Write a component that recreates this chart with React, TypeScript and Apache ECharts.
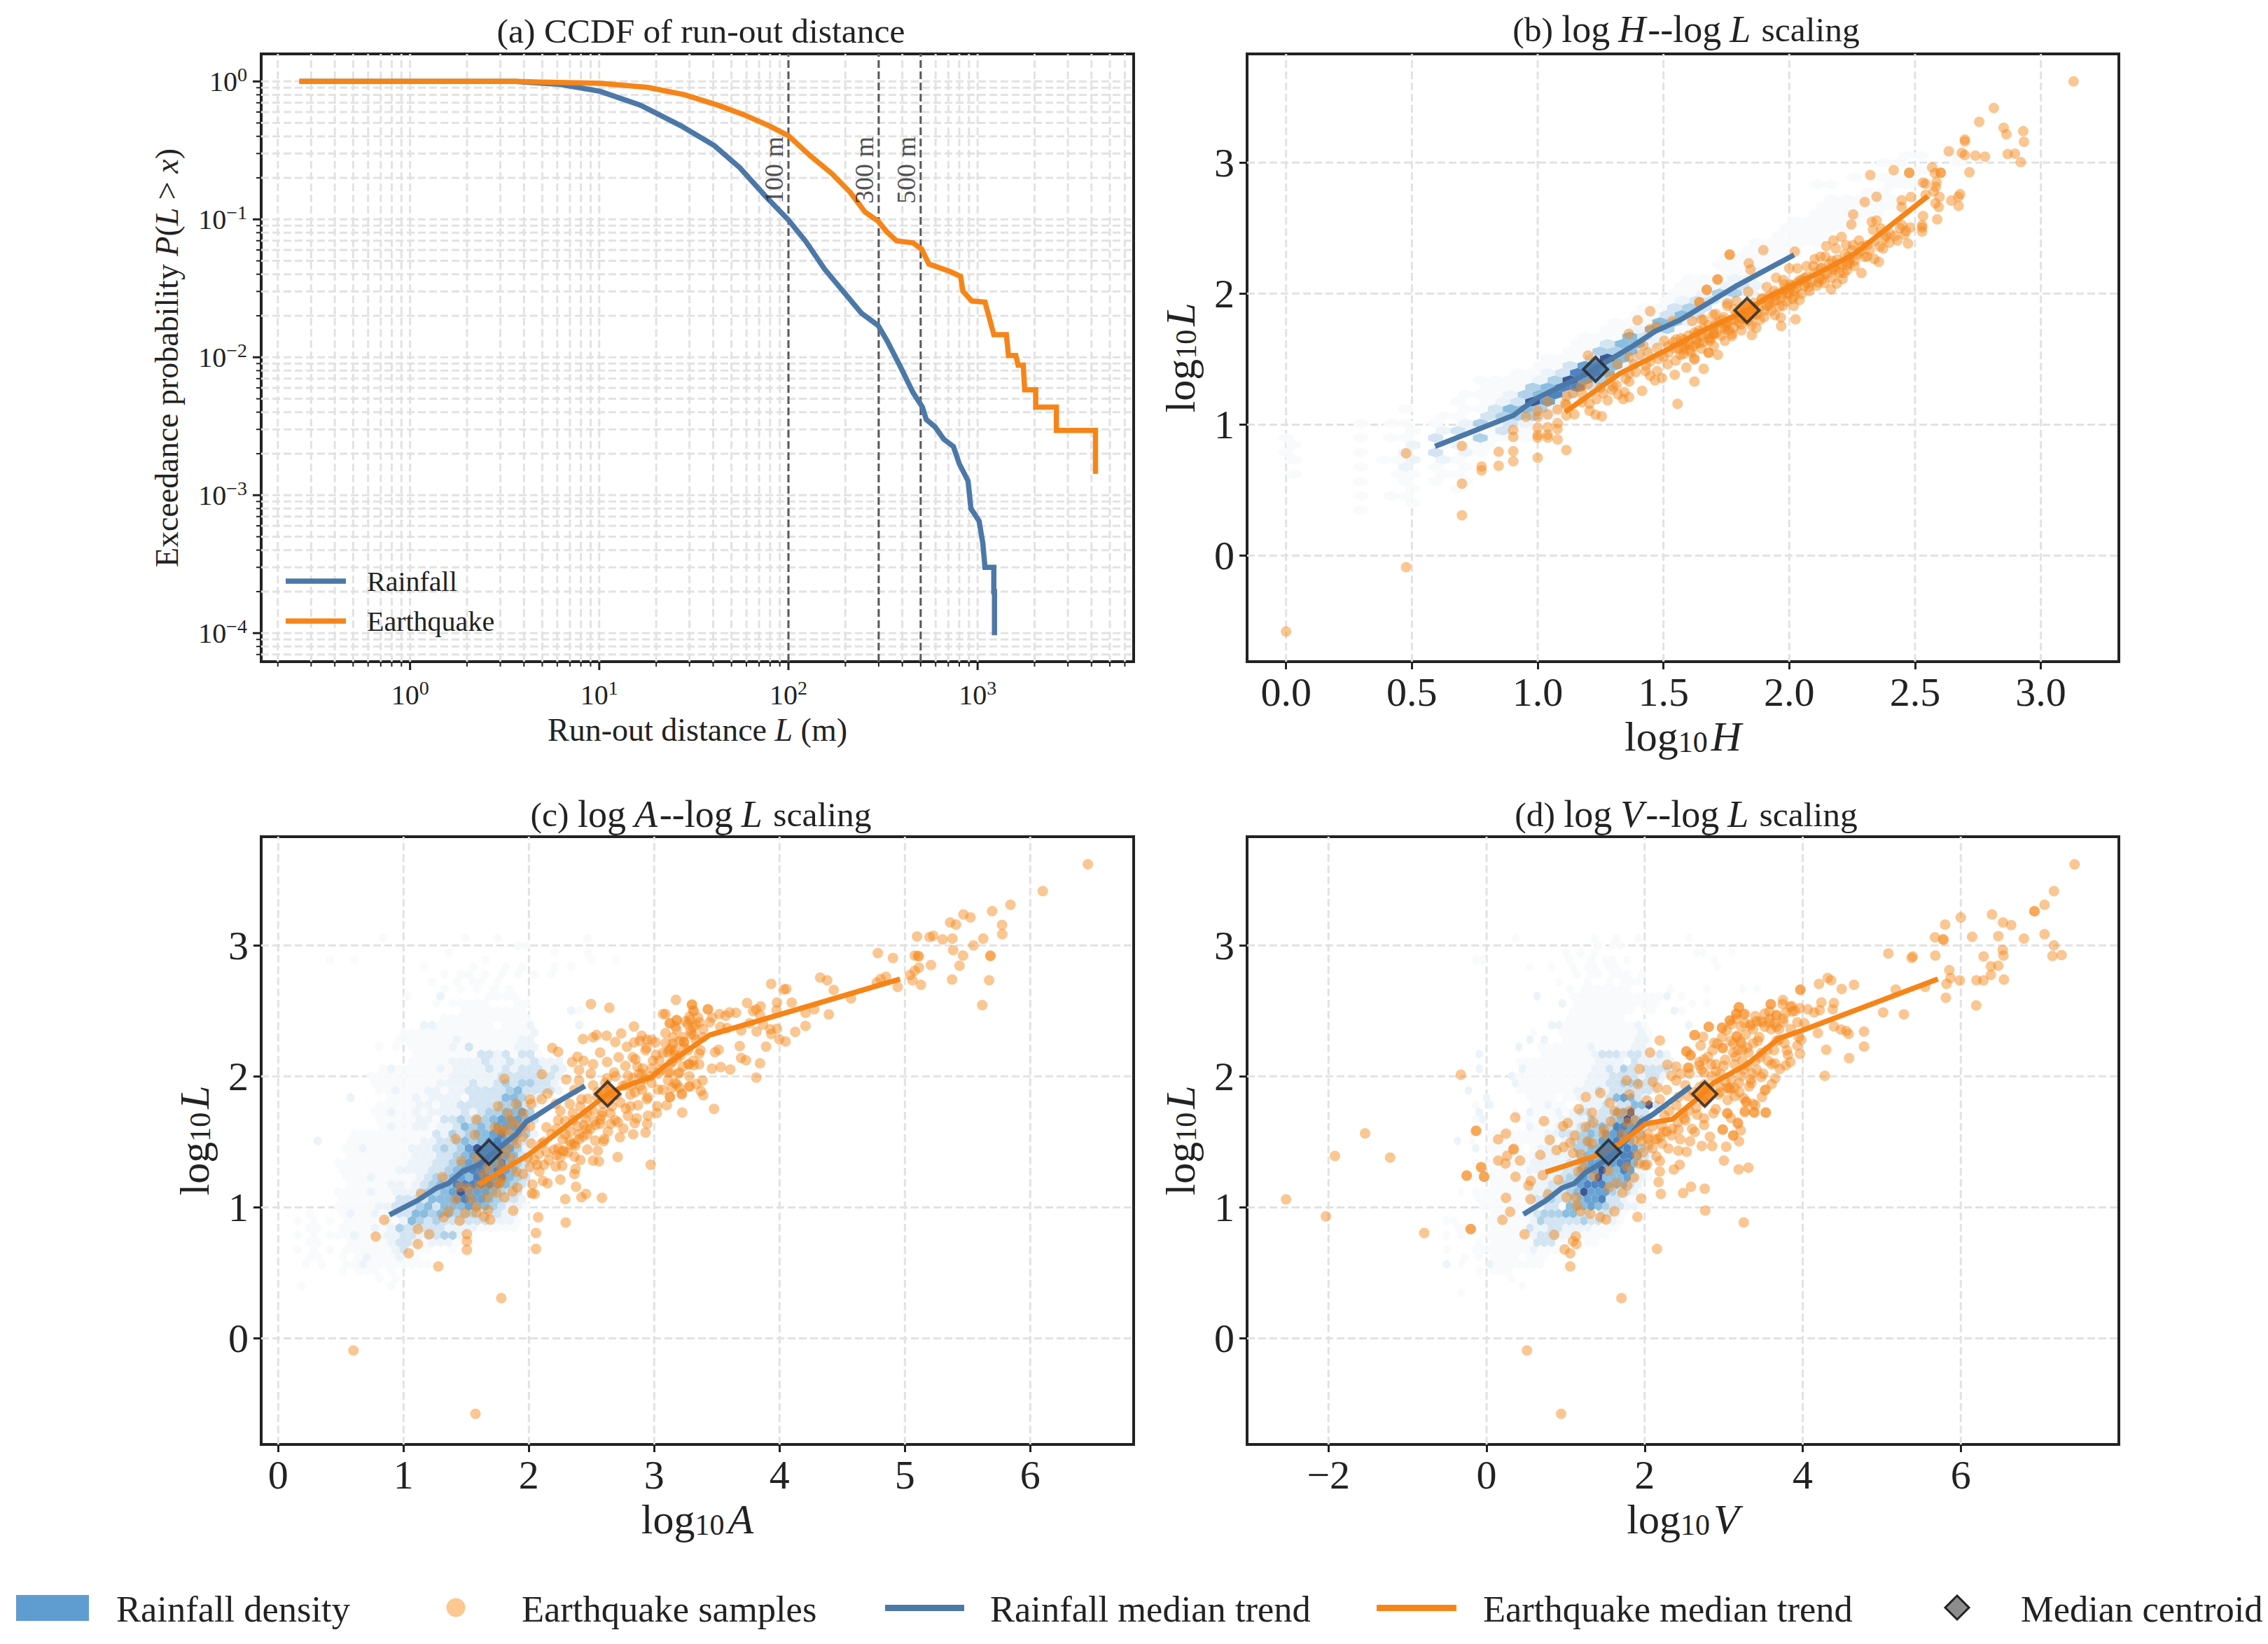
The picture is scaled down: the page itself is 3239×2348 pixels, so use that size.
import React, { useEffect, useRef } from "react";
import * as echarts from "echarts";

const F = "Liberation Serif";
const INK = "#222222";
const RAIN = "#4C78A8";
const QUAKE = "#F58518";
const GRID = "#e2e2e2";
const HEX_COLORS = ["", "#f7fafc", "#ebf3f9", "#cfe2f1", "#a9cee6", "#80b7dc", "#5b9bd0", "#3f79bb", "#2f4a8e"];

// ---------- panel (a): CCDF ----------
const CCDF_RAIN = [[0.26,1],[3.6,1],[6.2,0.952],[10.1,0.848],[16.5,0.673],[27,0.477],[40.5,0.343],[55.3,0.237],[75.7,0.147],[100,0.099],[124,0.0687],[155,0.0437],[194,0.0302],[243,0.0209],[298,0.017],[332,0.0132],[387,0.00877],[455,0.00557],[511,0.00435],[535,0.00354],[595,0.00313],[662,0.00255],[745,0.00225],[800,0.00169],[890,0.00127],[922,0.0008],[1018,0.00065],[1065,0.00045],[1094,0.0003],[1218,0.0003],[1218,0.0002],[1228,0.0002],[1228,0.0000965]];
const CCDF_QUAKE = [[0.26,1],[3.6,1],[10.1,0.968],[18,0.906],[28.3,0.8],[42.3,0.673],[57.9,0.575],[79,0.477],[100,0.404],[130,0.29],[170,0.214],[212,0.157],[254,0.113],[298,0.097],[332,0.081],[373,0.0698],[455,0.0676],[506,0.0608],[553,0.0474],[711,0.042],[813,0.0386],[836,0.0302],[931,0.0256],[1094,0.0251],[1164,0.0184],[1218,0.0146],[1419,0.0146],[1456,0.0103],[1592,0.0103],[1637,0.00877],[1742,0.00877],[1774,0.00581],[2028,0.00581],[2028,0.00435],[2608,0.00435],[2608,0.00295],[4199,0.00295],[4199,0.00143]];
const REF_LINES = [100, 300, 500];
const DECADES_X = [-1, 0, 1, 2, 3];
const DECADES_Y = [-5, -4, -3, -2, -1, 0];
const MINOR_MULT = [2, 3, 4, 5, 6, 7, 8, 9];

// ---------- ticks ----------
const TICKS_L = [0, 1, 2, 3];
const TICKS_H = [0, 0.5, 1, 1.5, 2, 2.5, 3];
const TICKS_A = [0, 1, 2, 3, 4, 5, 6];
const TICKS_V = [-2, 0, 2, 4, 6];

// ---------- samples (earthquake) ----------
const QUAKE_H = [[0,-0.58],[3.13,3.62],[0.477,-0.089],[0.477,0.78],[0.699,0.838],[0.699,0.549],[0.699,0.307],[0.777,0.68],[0.777,0.65],[0.845,0.793],[0.845,0.686],[0.903,0.96],[0.903,0.906],[0.903,0.797],[0.903,0.72],[1,1.105],[1,1.06],[1,0.977],[1,0.918],[1,0.9],[1,0.747],[0.954,1.06],[1.04,1.078],[1.04,0.98],[1.04,0.923],[1.04,0.9],[1.079,1.114],[1.079,1.012],[1.079,0.966],[1.079,0.886],[1.114,0.806],[1.114,1.07],[1.114,1.15],[1.114,1.216],[1.146,1.078],[1.23,1.075],[1.255,1.064],[1.206,1.105],[1.11,1.16],[1.04,1.176],[1.176,1.24],[1.173,1.29],[1.2,1.31],[1.2,1.528],[1.14,1.24],[1.176,1.17],[1.206,1.16],[1.234,1.194],[1.278,1.185],[1.26,1.24],[1.34,1.194],[1.363,1.209],[1.32,1.23],[1.295,1.266],[1.345,1.248],[1.415,1.257],[1.364,1.328],[1.364,1.39],[1.317,1.46],[1.29,1.37],[1.313,1.3],[1.362,1.693],[1.397,1.797],[1.447,1.865],[1.556,1.159],[1.623,1.328],[1.66,1.426],[1.716,1.533],[1.68,1.55],[1.447,1.729],[1.475,1.747],[1.535,1.79],[1.614,1.79],[1.642,1.934],[1.672,2.03],[1.716,2.109],[1.763,2.3],[1.364,1.515],[1.383,1.462],[1.405,1.533],[1.42,1.604],[1.438,1.551],[1.447,1.48],[1.429,1.408],[1.447,1.373],[1.475,1.408],[1.494,1.355],[1.466,1.337],[1.545,1.381],[1.517,1.462],[1.549,1.488],[1.591,1.435],[1.623,1.506],[1.568,1.533],[1.54,1.586],[1.503,1.64],[1.475,1.586],[1.582,1.649],[1.623,1.702],[1.651,1.8],[1.66,1.729],[1.698,1.836],[1.707,1.765],[1.744,1.729],[1.754,1.925],[1.772,1.676],[1.744,1.64],[1.684,1.64],[1.698,1.693],[1.642,1.622],[1.605,1.569],[1.735,1.8],[1.781,1.8],[2.813,3.417],[2.755,3.312],[2.852,3.266],[2.863,3.216],[2.93,3.24],[2.933,3.159],[2.698,3.176],[2.698,3.162],[2.634,3.087],[2.686,3.075],[2.698,3.057],[2.74,3.053],[2.778,3.046],[2.868,3.066],[2.897,3.068],[2.92,3.004],[2.716,2.927],[2.415,2.943],[2.477,2.922],[2.477,2.922],[2.322,2.905],[2.347,2.74],[2.3,2.7],[2.568,2.964],[2.579,2.92],[2.602,2.923],[2.602,2.923],[2.585,2.852],[2.532,2.848],[2.542,2.838],[2.583,2.816],[2.574,2.78],[2.542,2.754],[2.484,2.738],[2.447,2.713],[2.447,2.661],[2.597,2.738],[2.581,2.69],[2.594,2.661],[2.644,2.71],[2.672,2.74],[2.679,2.759],[2.673,2.67],[2.588,2.567],[2.532,2.592],[2.528,2.522],[2.528,2.504],[2.528,2.474],[2.472,2.383],[2.43,2.406],[2.458,2.451],[2.481,2.504],[2.449,2.522],[2.463,2.478],[2.254,2.604],[2.247,2.528],[2.328,2.549],[2.347,2.558],[2.333,2.487],[2.365,2.496],[2.384,2.442],[2.398,2.389],[2.373,2.344],[2.356,2.242],[2.338,2.264],[2.31,2.282],[2.287,2.157],[2.277,2.406],[2.254,2.371],[2.226,2.371],[2.175,2.406],[2.208,2.433],[2.147,2.362],[2.185,2.344],[2.143,2.282],[2.124,2.282],[2.101,2.264],[2.236,2.282],[2.259,2.21],[2.217,2.157],[2.199,2.228],[2.171,2.193],[2.212,2.112],[2.189,2.077],[2.166,2.032],[2.124,2.193],[2.096,2.21],[2.069,2.21],[2.032,2.193],[2,2.193],[2.022,2.321],[1.897,2.332],[1.763,2.296],[1.839,2.232],[1.846,2.184],[1.714,2.107],[1.672,2.029],[1.644,1.934],[1.976,2.103],[1.948,2.121],[2.004,2.068],[2.05,2.103],[2.078,2.05],[2.115,2.086],[2.041,1.952],[2.013,1.961],[2.018,1.907],[1.976,1.907],[2.025,1.804],[1.968,1.752],[1.966,1.818],[1.943,1.836],[1.911,2.05],[1.892,1.961],[1.92,1.907],[1.883,1.8],[1.869,1.738],[1.851,1.684],[1.809,1.765],[1.772,1.693],[1.707,1.845],[1.66,1.8],[1.679,1.658],[1.633,1.693],[1.623,1.497],[1.679,1.547],[1.753,1.907],[1.79,1.943],[1.837,2.014],[1.744,1.747],[1.939,1.979],[1.86,1.9],[1.82,1.85],[1.78,1.88],[1.84,1.79],[1.9,1.87],[1.95,1.95],[1.99,2.0],[2.06,2.12],[2.14,2.15],[2.17,2.25],[2.23,2.22],[2.31,2.37],[2.28,2.32],[2.0,2.04],[1.98,2.07],[2.03,2.08],[1.94,2.02],[1.6,1.62],[1.55,1.65],[1.52,1.55],[1.48,1.5],[1.43,1.45],[1.39,1.4],[1.35,1.35],[1.3,1.29],[1.25,1.28],[1.58,1.58],[1.65,1.68],[1.7,1.73]];
const QUAKE_H_DENSE = [[1.5,1.52],[1.52,1.6],[1.54,1.63],[1.56,1.58],[1.57,1.66],[1.58,1.54],[1.59,1.61],[1.6,1.68],[1.61,1.55],[1.62,1.6],[1.63,1.65],[1.64,1.72],[1.65,1.58],[1.66,1.63],[1.67,1.7],[1.68,1.76],[1.69,1.66],[1.7,1.6],[1.71,1.7],[1.72,1.78],[1.73,1.68],[1.74,1.82],[1.75,1.75],[1.76,1.72],[1.77,1.8],[1.78,1.74],[1.79,1.84],[1.8,1.78],[1.81,1.72],[1.82,1.9],[1.83,1.8],[1.84,1.86],[1.85,1.76],[1.86,1.93],[1.87,1.84],[1.88,1.89],[1.89,1.96],[1.9,1.82],[1.91,1.91],[1.92,1.98],[1.93,1.87],[1.94,1.94],[1.95,2.0],[1.96,1.9],[1.97,1.97],[1.98,2.03],[1.99,1.94],[2.0,2.0],[2.01,2.06],[2.02,1.98],[2.03,2.04],[2.04,2.1],[2.05,2.0],[2.06,2.06],[2.07,2.13],[2.08,2.02],[2.09,2.09],[2.1,2.16],[2.11,2.06],[2.12,2.12],[2.13,2.2],[2.14,2.08],[2.15,2.15],[2.16,2.23],[2.17,2.12],[2.18,2.18],[2.19,2.26],[2.2,2.16],[2.21,2.22],[2.22,2.3],[2.23,2.18],[2.24,2.26],[2.25,2.33],[2.26,2.25],[2.27,2.3],[2.29,2.36],[2.3,2.28],[2.32,2.33],[2.34,2.4],[2.36,2.36],[2.38,2.42],[2.4,2.46],[2.42,2.44],[2.44,2.5],[1.58,1.6],[1.63,1.62],[1.7,1.69],[1.75,1.78],[1.81,1.81],[1.86,1.84],[1.92,1.93],[1.97,2.0],[2.02,2.02],[2.07,2.08],[2.13,2.11],[2.18,2.2],[2.24,2.23]];
const QUAKE_A = [[0.6,-0.092],[1.574,-0.576],[1.78,0.307],[6.46,3.62],[6.1,3.414],[5.842,3.31],[5.696,3.262],[5.775,3.157],[5.777,3.086],[5.467,3.237],[5.523,3.214],[5.361,3.175],[5.408,3.159],[5.097,3.068],[5.197,3.064],[5.227,3.073],[5.301,3.045],[5.379,3.052],[5.625,3.052],[5.547,3],[5.385,2.964],[5.464,2.923],[5.682,2.922],[5.682,2.918],[5.078,2.922],[5.104,2.92],[5.112,2.916],[5.436,2.845],[5.208,2.85],[5.112,2.83],[5.078,2.806],[5.041,2.774],[5.06,2.734],[5.128,2.699],[5.376,2.74],[5.672,2.734],[5.617,2.544],[4.784,2.941],[4.905,2.904],[4.849,2.761],[4.806,2.743],[4.775,2.717],[4.942,2.684],[4.324,2.754],[4.38,2.734],[4.432,2.66],[4.57,2.595],[4.277,2.512],[4.207,2.485],[4.393,2.474],[4.207,2.385],[4.125,2.34],[3.933,2.706],[4.054,2.667],[4.034,2.663],[4.097,2.563],[3.98,2.565],[3.976,2.506],[3.741,2.56],[3.849,2.535],[3.812,2.512],[3.788,2.499],[3.844,2.47],[3.652,2.485],[3.601,2.488],[3.57,2.463],[3.521,2.476],[3.428,2.512],[3.428,2.512],[3.302,2.549],[3.317,2.499],[3.173,2.585],[3.282,2.458],[3.178,2.428],[3.123,2.405],[3.09,2.476],[3.462,2.449],[3.266,2.399],[3.313,2.378],[3.36,2.414],[3.178,2.357],[3.151,2.298],[3.313,2.316],[3.443,2.414],[3.527,2.378],[3.582,2.369],[3.76,2.405],[3.694,2.351],[3.816,2.342],[3.868,2.396],[3.926,2.36],[3.98,2.364],[3.933,2.324],[3.998,2.283],[4.048,2.267],[3.892,2.228],[3.682,2.232],[3.693,2.141],[3.732,2.123],[3.844,2.1],[3.814,1.991],[3.607,2.052],[3.531,2.071],[3.46,2.059],[3.514,2.203],[3.485,2.185],[3.359,2.173],[3.387,2.298],[3.238,2.262],[3.201,2.271],[3.136,2.217],[3.108,2.182],[3.164,2.164],[3.275,2.093],[3.313,2.084],[3.229,2.075],[3.359,2.093],[3.201,2.03],[3.127,2.03],[3.28,2],[3.386,1.968],[3.336,1.941],[3.277,1.923],[3.372,1.888],[3.391,1.856],[3.179,1.941],[3.142,1.914],[3.201,1.914],[3.22,1.87],[3.125,1.843],[3.223,1.724],[3.477,1.752],[0.845,0.904],[0.778,0.777],[1.041,0.649],[1.114,0.72],[1.114,0.834],[1.205,0.795],[1.277,0.549],[1.14,1.103],[1.505,0.676],[1.505,0.742],[1.505,0.795],[1.447,0.898],[1.32,0.925],[1.361,0.97],[1.492,0.955],[1.415,1.059],[1.581,1.005],[1.581,0.961],[1.641,0.929],[1.674,0.979],[1.691,0.906],[1.875,0.975],[1.804,1.077],[1.739,1.112],[1.665,1.077],[1.534,1.068],[1.451,1.157],[1.516,1.144],[1.311,1.232],[1.603,1.166],[1.683,1.175],[1.758,1.184],[1.87,1.121],[1.907,1.152],[1.46,1.353],[1.415,1.524],[1.568,1.554],[1.581,1.672],[1.804,1.982],[2.104,2.016],[2.186,2.217],[2.233,2.187],[2.495,2.553],[2.642,2.524],[2.432,2.285],[2.512,2.298],[2.54,2.316],[2.62,2.31],[2.736,2.328],[2.838,2.381],[2.074,0.925],[2.294,0.884],[2.056,0.804],[2.056,0.683],[2.024,1.107],[2.046,1.103],[2.028,1.175],[2.251,1.212],[2.376,1.157],[2.456,1.103],[2.419,1.077],[2.29,1.062],[2.583,1.073],[2.972,1.326],[2.559,1.351],[2.512,1.358],[2.708,1.385],[2.363,1.255],[2.372,1.294],[2.266,1.317],[2.214,1.312],[2.149,1.184],[2.112,1.201],[2.065,1.326],[2.41,1.362],[2.549,1.433],[2.466,1.442],[2.363,1.389],[2.27,1.433],[2.326,1.504],[2.4,1.558],[2.466,1.558],[2.596,1.504],[2.601,1.522],[2.726,1.535],[2.754,1.602],[2.832,1.558],[2.931,1.572],[2.944,1.638],[2.844,1.643],[2.689,1.665],[2.652,1.638],[2.568,1.638],[2.587,1.727],[2.466,1.718],[2.354,1.665],[2.233,1.665],[2.14,1.611],[2.102,1.487],[2.019,1.487],[1.953,1.54],[2.009,1.62],[1.953,1.718],[2.019,1.79],[2.009,1.825],[2.102,1.825],[2.149,1.87],[2.214,1.79],[2.298,1.977],[2.345,2.11],[2.387,2.15],[2.436,2.12],[2.4,2.048],[2.512,2.093],[2.568,2.182],[2.624,2.11],[2.68,2.03],[2.79,2.004],[2.716,2.146],[2.689,2.262],[2.782,2.226],[2.885,2.27],[2.94,2.28],[3.07,2.476],[3.126,2.405],[3.18,2.431],[3.3,2.547],[3.285,2.431],[3.31,2.503],[2.829,2.146],[2.866,2.075],[2.94,2.217],[3.015,2.164],[2.903,2.021],[3.09,2.253],[3.164,2.2],[3.238,2.262],[3.294,2.325],[3.145,2.111],[3.33,2.395],[3.03,2.021],[3.108,2.03],[3.276,2.093],[3.164,1.95],[3.22,1.861],[3.126,1.843],[3.024,1.772],[2.94,1.825],[2.847,1.879],[2.773,1.754],[2.81,1.772],[2.903,1.897],[3.285,1.923],[3.07,1.897],[2.978,1.95],[2.773,1.932],[2.642,1.897],[2.512,1.932],[2.419,1.825],[2.549,1.843],[2.326,1.79],[2.251,1.736],[2.624,1.986],[2.494,2.021],[2.4,1.968],[2.363,1.897],[2.661,1.772],[2.438,1.629],[2.531,1.629],[2.289,1.558],[2.363,1.487],[2.14,1.424],[2.233,1.451],[2.009,1.308],[2.084,1.273],[1.991,1.38],[2.046,1.362],[2.121,1.326],[1.758,1.594],[1.832,1.718],[1.856,1.665],[1.898,1.79],[1.754,1.772],[1.953,1.611],[1.898,1.629],[1.823,1.594],[1.73,1.611],[1.795,1.576],[1.879,1.54],[1.898,1.487],[1.823,1.451],[1.851,1.38],[1.767,1.326],[1.767,1.406],[1.637,1.255],[1.674,1.308],[1.581,1.38],[1.786,1.219],[1.767,1.184],[1.898,1.273],[1.953,1.255]];
const QUAKE_A_DENSE = [[2.08,1.41],[2.12,1.5],[2.16,1.36],[2.18,1.56],[2.2,1.44],[2.22,1.6],[2.25,1.38],[2.27,1.52],[2.29,1.66],[2.31,1.42],[2.33,1.58],[2.35,1.72],[2.37,1.47],[2.39,1.62],[2.41,1.77],[2.43,1.54],[2.45,1.68],[2.47,1.83],[2.49,1.6],[2.51,1.74],[2.53,1.51],[2.55,1.88],[2.57,1.67],[2.59,1.79],[2.61,1.95],[2.63,1.58],[2.65,1.72],[2.67,1.86],[2.69,2.0],[2.71,1.65],[2.73,1.8],[2.75,1.93],[2.77,2.08],[2.79,1.7],[2.81,1.86],[2.83,1.99],[2.85,2.13],[2.87,1.78],[2.89,1.93],[2.91,2.06],[2.93,2.2],[2.95,1.84],[2.97,2.0],[2.99,2.12],[3.01,2.26],[3.03,1.9],[3.05,2.05],[3.07,2.18],[3.09,2.33],[3.11,1.97],[3.13,2.1],[3.15,2.25],[3.17,2.38],[3.19,2.02],[3.21,2.16],[3.23,2.3],[3.25,2.42],[3.27,2.2],[3.29,2.35],[3.31,2.12],[3.33,2.28],[3.35,2.45],[3.37,2.2],[3.39,2.36],[2.98,2.28],[2.9,2.31],[2.84,2.26],[3.02,1.72],[2.95,1.7],[2.86,1.68],[3.1,1.78],[2.92,1.98],[2.98,2.06],[3.04,2.12],[2.88,2.02],[2.82,1.93],[3.12,2.2],[3.18,2.14],[3.24,2.22],[2.7,1.86],[2.64,1.82],[2.58,1.7],[2.52,1.66],[2.46,1.6],[2.4,1.52],[2.34,1.48],[2.28,1.43],[2.22,1.4]];
const QUAKE_V = [[-2.537,1.061],[-2.033,0.931],[-1.919,1.392],[-1.537,1.565],[-1.22,1.381],[-0.789,0.805],[-0.203,0.835],[-0.325,2.012],[-0.13,1.586],[-0.065,1.306],[-0.252,1.241],[-0.033,1.235],[0.512,-0.092],[0.943,-0.576],[1.707,0.307],[7.44,3.619],[7.179,3.414],[7.179,3],[7.16,2.92],[7.276,2.926],[6.935,3.26],[5.802,3.159],[6,3.214],[5.673,3.062],[5.776,3.048],[5.782,3.041],[6.144,3.066],[6.395,3.237],[6.534,3.175],[6.637,3.155],[6.475,3.071],[6.799,3.052],[6.929,3.262],[7.06,3.31],[7.06,3.086],[6.531,2.966],[6.54,2.922],[6.289,2.916],[6.381,2.841],[6.475,2.845],[6.381,2.774],[6.546,2.74],[6.286,2.733],[6.198,2.734],[5.988,2.733],[5.87,2.752],[5.855,2.811],[5.82,2.706],[5.811,2.601],[6.195,2.542],[5.678,2.922],[5.392,2.916],[5.378,2.904],[5.083,2.939],[5.177,2.663],[5.549,2.684],[5.018,2.488],[5.28,2.474],[4.316,2.752],[4.36,2.734],[4.206,2.706],[4.493,2.667],[4.649,2.699],[3.97,2.66],[4.236,2.565],[4.395,2.56],[4.38,2.512],[4.215,2.506],[4.145,2.488],[4.065,2.512],[3.962,2.52],[4.395,2.381],[4.484,2.357],[4.552,2.346],[4.581,2.324],[4.776,2.342],[4.776,2.228],[4.298,2.203],[4.587,2.139],[4.28,2.004],[4.192,2.33],[3.982,2.28],[3.965,2.173],[3.746,2.552],[3.843,2.531],[3.867,2.495],[3.599,2.551],[3.578,2.494],[3.667,2.467],[3.785,2.485],[3.189,2.526],[3.159,2.476],[3.254,2.474],[3.077,2.424],[2.811,2.378],[2.979,2.369],[3.268,2.405],[3.342,2.387],[3.416,2.422],[3.49,2.414],[3.578,2.414],[3.667,2.378],[3.755,2.414],[3.932,2.414],[4.021,2.405],[2.628,2.315],[2.74,2.303],[2.879,2.257],[2.708,2.235],[2.531,2.191],[2.581,2.164],[3.165,2.307],[3.209,2.271],[3.091,2.271],[3.431,2.271],[3.372,2.253],[2.988,2.217],[3.121,2.182],[3.239,2.2],[3.313,2.182],[3.667,2.271],[3.637,2.2],[3.77,2.253],[3.932,2.235],[3.814,2.164],[3.844,2.11],[3.785,2.084],[3.711,2.057],[3.608,2.093],[3.46,2.146],[2.9,2.093],[2.752,2.128],[2.693,2.084],[2.546,2.066],[2.569,2.021],[2.752,2.03],[2.9,2.039],[3.018,2.128],[3.136,2.093],[3.224,2.004],[3.342,1.977],[3.475,1.995],[3.652,1.986],[3.608,1.941],[3.534,1.9],[3.519,1.893],[3.484,1.843],[3.322,1.923],[3.047,1.914],[3.136,1.914],[2.959,1.879],[3.254,1.834],[3.283,1.807],[3.401,1.78],[3.268,1.736],[3.386,1.724],[3.531,1.724],[3.047,1.718],[2.988,1.594],[3.091,1.682],[3.18,1.647],[3.121,1.549],[3.215,1.588],[3.195,1.504],[3.032,1.463],[2.855,1.469],[3.003,1.357],[3.189,1.29],[3.313,1.303],[2.761,1.143],[2.587,1.157],[2.487,1.109],[2.767,0.975],[-0.136,1.583],[0.147,1.52],[0.245,1.563],[0.342,1.447],[0.342,1.44],[0.363,1.686],[0.147,1.357],[0.239,1.335],[0.26,1.394],[0.422,1.357],[-0.071,1.308],[-0.03,1.234],[-0.251,1.244],[0.366,1.234],[0.56,1.203],[0.531,1.166],[0.245,1.073],[0.555,1.062],[0.298,0.966],[0.201,0.904],[-0.198,0.834],[0.481,0.795],[0.855,0.791],[1.13,0.779],[1.094,0.742],[1.136,0.72],[0.988,0.679],[1.059,0.649],[1.059,0.549],[2.156,0.683],[3.254,0.884],[1.909,0.927],[1.956,1.068],[2.206,1.103],[1.617,0.97],[1.313,0.952],[1.513,0.907],[1.44,0.925],[1.189,0.97],[1.145,1.014],[2.177,1.193],[2.369,1.29],[2.443,1.326],[2.192,1.273],[2.029,1.326],[1.926,1.335],[2.192,1.353],[0.776,1.098],[0.711,1.246],[0.909,1.21],[1.012,1.077],[1.13,1.077],[1.72,1.112],[1.549,1.152],[1.646,1.184],[1.779,1.166],[1.867,1.228],[1.779,1.308],[1.543,1.282],[1.366,1.237],[1.159,1.273],[1.218,1.308],[1.277,1.504],[1.336,1.487],[1.484,1.558],[1.351,1.647],[1.484,1.594],[1.572,1.656],[1.254,1.615],[1.336,1.722],[1.168,1.75],[1.027,1.644],[0.968,1.62],[0.726,1.658],[0.799,1.515],[1.118,1.549],[1.059,1.492],[0.976,1.46],[0.885,1.437],[0.681,1.401],[1.094,1.415],[1.189,1.406],[1.257,1.843],[1.44,1.873],[1.558,1.799],[1.622,1.736],[1.808,1.861],[1.935,2.057],[1.917,1.941],[1.77,1.968],[2.068,2.182],[2.192,2.275],[2.287,2.089],[2.103,1.959],[2.162,1.914],[2.029,1.816],[2.192,1.825],[1.808,1.736],[1.69,1.718],[1.779,1.647],[1.882,1.665],[1.72,1.558],[1.867,1.513],[1.956,1.504],[2.044,1.522],[2.133,1.522],[2.236,1.576],[2.221,1.487],[2.398,2.075],[2.634,2.316],[2.811,2.378],[2.979,2.373],[2.525,2.19],[2.58,2.16],[2.56,2.066],[2.457,2.021],[2.339,2.004],[2.398,1.968],[2.516,1.932],[2.28,1.897],[2.428,1.843],[2.31,1.736],[2.428,1.594],[2.516,1.665],[2.634,1.576],[2.752,1.629],[2.575,1.504],[2.428,1.433],[2.531,1.424],[2.723,1.469],[2.826,1.54],[2.988,1.594],[3.121,1.549],[3.18,1.638],[3.268,1.727],[3.386,1.727],[3.534,1.724],[3.283,1.807],[3.372,1.79],[3.047,1.718],[2.87,1.718],[2.664,1.709],[2.752,1.807],[2.929,1.861],[3.077,1.914],[3.195,1.95],[2.693,2.11],[2.841,2.093],[2.988,2.217],[3.165,2.307],[3.224,2.253],[3.372,2.36],[3.519,2.378],[3.667,2.467],[3.593,2.551],[3.75,2.583],[3.86,2.538],[3.97,2.663],[3.195,2.53],[3.268,2.477],[3.159,2.477],[3.077,2.428]];
const QUAKE_V_DENSE = [[1.9,1.4],[1.95,1.55],[2.0,1.32],[2.05,1.48],[2.1,1.62],[2.15,1.39],[2.2,1.54],[2.25,1.7],[2.3,1.45],[2.35,1.6],[2.4,1.78],[2.45,1.52],[2.5,1.68],[2.55,1.85],[2.6,1.6],[2.65,1.76],[2.7,1.92],[2.75,1.68],[2.8,1.84],[2.85,2.0],[2.9,1.75],[2.95,1.92],[3.0,2.08],[3.05,1.82],[3.1,1.98],[3.15,2.15],[3.2,1.88],[3.25,2.05],[3.3,2.22],[3.35,1.95],[3.4,2.12],[3.45,2.3],[3.5,2.02],[3.55,2.2],[3.6,2.36],[3.65,2.1],[3.7,2.28],[3.75,2.44],[3.8,2.2],[3.85,2.36],[3.9,2.5],[3.95,2.3],[2.72,2.05],[2.8,2.15],[2.86,2.2],[2.92,2.25],[2.98,2.3],[3.04,2.35],[3.1,2.4],[3.16,2.44],[3.22,2.38],[3.28,2.32],[3.34,2.4],[3.4,2.46],[3.46,2.42],[3.52,2.48],[3.58,2.44],[3.64,2.4],[3.7,2.36],[3.12,2.25],[3.18,2.2],[3.24,2.12],[3.3,2.08],[3.36,2.02],[3.42,2.05],[3.48,2.18],[3.56,2.12],[2.96,2.02],[3.02,1.96],[3.08,1.9],[3.14,1.85],[2.76,1.94],[2.82,1.9],[2.62,1.88],[2.56,1.74],[2.48,1.72],[2.42,1.65],[2.34,1.55],[2.28,1.58],[2.22,1.62],[2.16,1.52],[2.1,1.45],[2.04,1.56],[1.98,1.42]];

// ---------- median trends ----------
const RAIN_TREND_H = [[0.592,0.834],[0.904,1.07],[0.993,1.198],[1.187,1.381],[1.382,1.604],[1.466,1.711],[1.568,1.8],[1.79,2.059],[2.019,2.296]];
const QUAKE_TREND_H = [[1.109,1.096],[1.327,1.39],[1.512,1.569],[1.66,1.72],[1.832,1.872],[1.911,1.97],[2.115,2.157],[2.263,2.308],[2.551,2.745]];
const RAIN_TREND_A = [[0.888,0.943],[1.106,1.05],[1.264,1.148],[1.358,1.184],[1.469,1.273],[1.6,1.326],[1.898,1.558],[1.981,1.656],[2.047,1.692],[2.233,1.807],[2.447,1.927]];
const QUAKE_TREND_A = [[1.6,1.175],[1.991,1.398],[2.2,1.55],[2.628,1.866],[2.736,1.914],[2.978,1.995],[3.09,2.084],[3.443,2.316],[4,2.472],[4.961,2.743]];
const RAIN_TREND_V = [[0.466,0.947],[0.746,1.05],[0.953,1.148],[1.115,1.184],[1.248,1.264],[1.513,1.362],[1.779,1.522],[1.956,1.656],[2.103,1.709],[2.581,1.923]];
const QUAKE_TREND_V = [[0.746,1.269],[1.366,1.389],[1.69,1.487],[2.015,1.638],[2.354,1.674],[2.693,1.843],[2.87,1.95],[3.298,2.093],[3.696,2.289],[3.991,2.351],[5.711,2.743]];

// ---------- median centroids ----------
const CENTROIDS_H = [[1.23,1.422],[1.832,1.872]];
const CENTROIDS_A = [[1.682,1.421],[2.628,1.866]];
const CENTROIDS_V = [[1.543,1.421],[2.761,1.865]];

// ---------- rainfall density, [log L, first column, levels along the row] ----------
const HEX_H = [[0.4,17,"1"],[0.456,16,"1"],[0.511,17,"1001"],[0.566,20,"101"],[0.621,15,"11011"],[0.677,16,"20101"],[0.732,15,"12021"],[0.787,16,"203021"],[0.843,17,"201211"],[0.898,14,"1103004111"],[0.953,17,"102321311"],[1.009,16,"1010242321"],[1.064,21,"11034442"],[1.12,16,"10001135542"],[1.175,23,"101238621"],[1.23,24,"111245731"],[1.285,27,"111457731"],[1.34,26,"1111248641"],[1.396,31,"11237752"],[1.451,34,"1136652"],[1.506,35,"1113852"],[1.56,38,"114452"],[1.617,39,"113552"],[1.672,40,"111532"],[1.728,43,"112541"],[1.783,44,"111542"],[1.838,47,"11353"],[1.893,48,"11343"],[1.949,51,"12332"],[2.004,52,"112442"],[2.06,53,"111232"],[2.115,54,"111221"],[2.17,59,"1121"],[2.225,58,"11111"],[2.281,59,"11111"],[2.336,62,"1111"],[2.391,63,"11111"],[2.446,66,"1111"],[2.502,67,"11111"],[2.557,68,"11111"],[2.612,71,"11111"],[2.668,72,"111111"],[2.723,73,"11111"],[2.778,78,"11"],[2.834,71,"11"],[2.834,81,"111"],[2.889,76,"1"],[2.889,80,"111"],[2.944,85,"1"],[2.999,80,"11"],[2.999,90,"1"],[3.055,83,"11"],[3.055,89,"1"],[0.898,0,"1"],[0.843,1,"1"],[0.787,0,"1"],[0.732,1,"1"],[0.621,1,"1"],[1.009,10,"1"],[0.898,10,"1"],[0.787,10,"1"],[0.677,10,"1"],[0.566,10,"1"],[0.456,10,"1"],[0.345,10,"1"],[0.732,13,"1"],[1.119,16,"1"],[1.009,14,"1"],[0.566,16,"1"],[0.456,14,"1"]];
const HEX_A = [[0.4,1,"100000000"],[0.4,23,"1"],[0.456,20,"101"],[0.511,11,"10111"],[0.511,23,"1"],[0.566,2,"1010011211111111"],[0.566,14,"1"],[0.621,3,"11"],[0.621,11,"1012111"],[0.621,25,"211"],[0.677,0,"10101"],[0.677,12,"111111"],[0.677,24,"23111"],[0.677,38,"1"],[0.732,3,"11"],[0.732,13,"11111"],[0.732,23,"233212221"],[0.787,0,"1010111211122332334421"],[0.843,3,"11"],[0.843,11,"1111212433333222211111"],[0.898,0,"10101"],[0.898,12,"11111212543433333322 21"],[0.953,3,"1"],[0.953,11,"12112123355455444333 22"],[1.009,10,"11111223334535556554 32 21"],[1.064,11,"11111113333555676654332"],[1.119,10,"1111211222344568666 5433"],[1.175,13,"111112212345577777654 3"],[1.23,12,"11121111123445657767543"],[1.285,11,"11111112222334567767653 2"],[1.34,10,"11111111122233456676754 3"],[1.396,13,"1111111122233456667653 2"],[1.451,12,"11211111222343468666642"],[1.506,5,"2"],[1.506,13,"11111111122334545676532"],[1.562,14,"11111111113243455675542"],[1.617,21,"121122122354546665"],[1.672,20,"11111221334344566653"],[1.728,19,"1121121222232344556 4"],[1.783,20,"1111122122333334453 2"],[1.838,13,"2"],[1.838,23,"11121222213333554 22"],[1.893,20,"112111221223333345333 32"],[1.949,19,"1111111122223223434433 2"],[2.004,18,"111111111122222233333332"],[2.059,21,"12111112122223232333232"],[2.115,28,"11111222232232232 22"],[2.17,29,"111111113323133 1"],[2.225,20,"1010111112131111122 2"],[2.281,25,"111111121111111 22"],[2.336,26,"11111111111111112"],[2.391,31,"2211111110111200000 2"],[2.446,36,"11111111111"],[2.502,41,"11111111"],[2.502,67,"21"],[2.557,34,"1011111"],[2.557,54,"11"],[2.612,27,"1"],[2.612,35,"2"],[2.612,47,"1111"],[2.668,36,"101010101"],[2.723,33,"1001011 01"],[2.778,36,"10110101010101"],[2.834,31,"1"],[2.834,43,"1"],[2.834,51,"101"],[2.834,63,"101"],[2.889,8,"1001"],[2.889,46,"1"],[2.889,72,"1001"],[2.944,37,"1"],[2.944,63,"1"],[2.944,71,"1"],[2.999,54,"11"],[3.055,21,"1"],[3.055,41,"1"],[3.055,49,"1"],[3.055,71,"1"]];
const HEX_V = [[0.345,4,"1"],[0.4,21,"1"],[0.456,18,"1"],[0.511,9,"10111"],[0.566,0,"201000211111 11"],[0.621,5,"10101111 0111"],[0.677,0,"1000111111112"],[0.677,26,"1111"],[0.732,9,"10111111333110011"],[0.787,0,"101000111111233322 11111"],[0.843,3,"11100111113223322221111"],[0.898,0,"1100001111112433333433221"],[0.953,13,"1111123444553323321"],[1.009,10,"11111112233155565433 2211"],[1.064,9,"11111112334334566733211"],[1.119,4,"1011111111223334586664 3321"],[1.175,13,"111112223344677755532"],[1.23,8,"1111111112223446585556321"],[1.285,9,"1011111222223356685576 21"],[1.34,8,"101111112222233566667 7532"],[1.396,13,"11111122222245566677532"],[1.451,8,"201111101222224455666 7643"],[1.506,3,"2010011111111212345466 76532"],[1.562,12,"1111111122333454667644"],[1.617,23,"21112223445477643"],[1.672,8,"120000111111222243345 8543"],[1.728,9,"2000010211121233233558 33"],[1.783,8,"10200000112110022232335583"],[1.838,11,"2000001111011212235653 2"],[1.893,6,"2000000111111112223233333 32"],[1.949,19,"21111111112223344 4332"],[2.004,18,"21111111111222333323 32"],[2.059,9,"200000211111111122324323333 2"],[2.115,20,"1111111111122221322222"],[2.17,9,"200000000111111123332332232"],[2.225,20,"2001111111211111221"],[2.281,23,"2020011111111 11221"],[2.336,24,"1000111111111112 1"],[2.391,29,"22111111111121"],[2.391,67,"2"],[2.446,34,"11111111"],[2.502,35,"111111111011"],[2.502,63,"21"],[2.557,32,"201111111111 11"],[2.557,68,"101"],[2.612,25,"2"],[2.612,35,"11111111111112 01"],[2.668,34,"1011111110"],[2.668,62,"1"],[2.668,72,"1"],[2.668,82,"101"],[2.723,31,"1"],[2.723,39,"1"],[2.723,45,"1"],[2.723,49,"111"],[2.778,36,"1011011101"],[2.834,23,"1001001011011"],[2.834,75,"1"],[2.889,8,"11"],[2.889,34,"100101101"],[2.889,74,"1"],[2.944,33,"10101"],[2.944,69,"11"],[2.944,79,"1"],[2.999,42,"1011"],[3.055,19,"1"],[3.055,41,"1"],[3.055,47,"1"],[3.055,53,"1"],[3.055,67,"1"]];

const expandHex = (rows: any[], origin: number, half: number) => {
  const out: number[][] = [];
  rows.forEach(([y, col, s]) => {
    String(s).replace(/\s/g, "").split("").forEach((c, i) => {
      const lv = Number(c);
      if (lv > 0) out.push([origin + (col + 2 * i) * half, y, lv]);
    });
  });
  return out;
};

const HALF_ROW = 0.0553;

const hexSeries = (idx: number, rows: any[], origin: number, half: number) => ({
  type: "custom",
  xAxisIndex: idx,
  yAxisIndex: idx,
  z: 2,
  silent: true,
  clip: true,
  encode: { x: 0, y: 1 },
  data: expandHex(rows, origin, half),
  renderItem: (_: any, api: any) => {
    const x = api.value(0);
    const y = api.value(1);
    const lv = api.value(2);
    const tall = (HALF_ROW * 2) / 3;
    const pts = [[x, y + tall], [x + half, y + tall / 2], [x + half, y - tall / 2], [x, y - tall], [x - half, y - tall / 2], [x - half, y + tall / 2]].map((p) => api.coord(p));
    return { type: "polygon", shape: { points: pts }, style: { fill: HEX_COLORS[lv], opacity: 0.92 } };
  },
});

// one dashed line series per grid line
const gridLine = (idx: number, data: number[][]) => ({
  type: "line",
  xAxisIndex: idx,
  yAxisIndex: idx,
  z: 1,
  silent: true,
  symbol: "none",
  data,
  lineStyle: { color: GRID, width: 3, type: [11, 5] },
});

// short outward ticks of the log axes of panel (a)
const logTicks = (data: number[][]) => ({
  type: "custom",
  xAxisIndex: 0,
  yAxisIndex: 0,
  z: 1,
  silent: true,
  encode: { x: 0, y: 1 },
  data,
  renderItem: (params: any, api: any) => {
    const cs = params.coordSys;
    const kind = api.value(2);
    const big = api.value(3);
    const tk = { stroke: INK, lineWidth: big ? 3 : 2 };
    const len = big ? 12 : 7;
    if (kind === 0) {
      const px = api.coord([api.value(0), api.value(1)])[0];
      return { type: "line", shape: { x1: px, y1: cs.y + cs.height, x2: px, y2: cs.y + cs.height + len }, style: tk };
    }
    const py = api.coord([api.value(0), api.value(1)])[1];
    return { type: "line", shape: { x1: cs.x - len, y1: py, x2: cs.x, y2: py }, style: tk };
  },
});

const lineSeries = (idx: number, data: number[][], color: string, z: number, name?: string) => ({
  type: "line",
  name,
  xAxisIndex: idx,
  yAxisIndex: idx,
  z,
  data,
  symbol: "none",
  silent: true,
  lineStyle: { color, width: 7.5, cap: "butt", join: "miter" },
});

const sampleSeries = (idx: number, data: number[][]) => ({
  type: "scatter",
  xAxisIndex: idx,
  yAxisIndex: idx,
  z: 3,
  data,
  symbol: "circle",
  symbolSize: 15,
  silent: true,
  itemStyle: { color: QUAKE, opacity: 0.47 },
});

const centroidSeries = (idx: number, pts: number[][]) => ({
  type: "scatter",
  xAxisIndex: idx,
  yAxisIndex: idx,
  z: 6,
  symbol: "diamond",
  symbolSize: 35,
  silent: true,
  data: [
    { value: pts[0], itemStyle: { color: RAIN, borderColor: INK, borderWidth: 4 } },
    { value: pts[1], itemStyle: { color: QUAKE, borderColor: INK, borderWidth: 4 } },
  ],
});

const GRIDS = [
  { left: 373, top: 77, width: 1246, height: 868 },
  { left: 1781, top: 77, width: 1245, height: 868 },
  { left: 373, top: 1195, width: 1246, height: 868 },
  { left: 1781, top: 1195, width: 1245, height: 868 },
];

const richName = (size: number) => ({
  i: { fontStyle: "italic", fontFamily: F, fontSize: size, color: INK, padding: [0, 0, 0, 5] },
  s: { fontFamily: F, fontSize: Math.round(size * 0.7), color: INK, padding: [16, 0, 0, 0] },
});

const valueAxis = (idx: number, min: number, max: number, ticks: number[], name: string, nameGap: number, margin: number) => ({
  gridIndex: idx,
  type: "value",
  min,
  max,
  axisLine: { show: false, onZero: false },
  splitLine: { show: false },
  axisTick: { show: true, length: 11, lineStyle: { color: INK, width: 3 }, customValues: ticks },
  axisLabel: {
    customValues: ticks,
    margin,
    fontFamily: F,
    fontSize: 58,
    color: INK,
    formatter: (v: number) => (ticks.some((t) => !Number.isInteger(t)) ? v.toFixed(1) : String(v)).replace("-", "\u2212"),
  },
  name,
  nameLocation: "middle",
  nameGap,
  nameTextStyle: { fontFamily: F, fontSize: 60, color: INK, rich: richName(60) },
});

const logLabel = (v: number) => {
  const e = Math.log10(v);
  if (Math.abs(e - Math.round(e)) > 1e-6) return "";
  return `{b|10}{p|${String(Math.round(e)).replace("-", "\u2212")}}`;
};

const logAxis = (min: number, max: number, name: string, nameGap: number, margin: number) => ({
  gridIndex: 0,
  type: "log",
  logBase: 10,
  min,
  max,
  axisLine: { show: false, onZero: false },
  splitLine: { show: false },
  axisTick: { show: false },
  minorTick: { show: false },
  axisLabel: {
    interval: 0,
    hideOverlap: false,
    margin,
    formatter: logLabel,
    rich: {
      b: { fontFamily: F, fontSize: 40, color: INK },
      p: { fontFamily: F, fontSize: 28, color: INK, padding: [0, 0, 20, 0] },
    },
  },
  name,
  nameLocation: "middle",
  nameGap,
  nameTextStyle: { fontFamily: F, fontSize: 46, color: INK, rich: { i: { fontStyle: "italic", fontFamily: F, fontSize: 46, color: INK } } },
});

const X_MIN = 0.1633;
const X_MAX = 6680;
const Y_MIN = 6.21e-5;
const Y_MAX = 1.583;

const logValues = (decades: number[], lo: number, hi: number) => {
  const out: number[][] = [];
  decades.forEach((d) => {
    const base = Math.pow(10, d);
    if (base >= lo && base <= hi) out.push([base, 1]);
    MINOR_MULT.forEach((m) => {
      const v = m * base;
      if (v >= lo && v <= hi) out.push([v, 0]);
    });
  });
  return out;
};

const LOG_X = logValues(DECADES_X, X_MIN, X_MAX);
const LOG_Y = logValues(DECADES_Y, Y_MIN, Y_MAX);

const valueGrid = (idx: number, xs: number[], ys: number[], x0: number, x1: number, y0: number, y1: number) => [
  ...xs.map((v) => gridLine(idx, [[v, y0], [v, y1]])),
  ...ys.map((v) => gridLine(idx, [[x0, v], [x1, v]])),
];

const titleOf = (text: string, cx: number, top: number) => ({
  text,
  left: cx,
  top,
  textAlign: "center",
  textStyle: {
    fontFamily: F,
    fontSize: 49.5,
    fontWeight: "normal",
    color: INK,
    rich: {
      m: { fontFamily: F, fontSize: 54, color: INK },
      i: { fontStyle: "italic", fontFamily: F, fontSize: 54, color: INK, padding: [0, 3, 0, 12] },
    },
  },
});

const legendText = (text: string, x: number, y: number, size: number) => ({
  type: "text",
  x,
  y,
  z: 20,
  style: { text, fontFamily: F, fontSize: size, fill: INK, verticalAlign: "middle" },
});

const makeOption = () => ({
  animation: false,
  backgroundColor: "#ffffff",
  title: [
    titleOf("(a) CCDF of run-out distance", 996, 14),
    titleOf("(b) {m|log}{i|H}{m|--log}{i|L} scaling", 2403, 10),
    titleOf("(c) {m|log}{i|A}{m|--log}{i|L} scaling", 996, 1131),
    titleOf("(d) {m|log}{i|V}{m|--log}{i|L} scaling", 2403, 1131),
  ],
  grid: GRIDS.map((g) => ({ ...g, show: true, borderColor: INK, borderWidth: 4, backgroundColor: "transparent", containLabel: false })),
  xAxis: [
    logAxis(X_MIN, X_MAX, "Run-out distance {i|L} (m)", 74, 23),
    valueAxis(1, -0.155, 3.31, TICKS_H, "log{s|10}{i|H}", 77, 14),
    valueAxis(2, -0.136, 6.825, TICKS_A, "log{s|10}{i|A}", 77, 14),
    valueAxis(3, -3.03, 8.0, TICKS_V, "log{s|10}{i|V}", 77, 14),
  ],
  yAxis: [
    logAxis(Y_MIN, Y_MAX, "Exceedance probability {i|P}({i|L} > {i|x})", 112, 20),
    valueAxis(1, -0.81, 3.83, TICKS_L, "log{s|10}{i|L}", 65, 18),
    valueAxis(2, -0.81, 3.83, TICKS_L, "log{s|10}{i|L}", 65, 18),
    valueAxis(3, -0.81, 3.83, TICKS_L, "log{s|10}{i|L}", 65, 18),
  ],
  series: [
    ...LOG_X.map(([v]) => gridLine(0, [[v, Y_MIN], [v, Y_MAX]])),
    ...LOG_Y.map(([v]) => gridLine(0, [[X_MIN, v], [X_MAX, v]])),
    logTicks([...LOG_X.map(([v, big]) => [v, 1, 0, big]), ...LOG_Y.map(([v, big]) => [1, v, 1, big])]),
    ...REF_LINES.map((x) => ({
      type: "line",
      xAxisIndex: 0,
      yAxisIndex: 0,
      z: 4,
      symbol: "none",
      silent: true,
      data: [[x, Y_MIN], [x, Y_MAX]],
      lineStyle: { color: "#5a5a5a", width: 3, type: [11, 5] },
    })),
    lineSeries(0, CCDF_RAIN, RAIN, 5, "Rainfall"),
    lineSeries(0, CCDF_QUAKE, QUAKE, 5, "Earthquake"),
    {
      type: "scatter",
      xAxisIndex: 0,
      yAxisIndex: 0,
      z: 7,
      symbolSize: 1,
      silent: true,
      itemStyle: { color: "transparent" },
      data: REF_LINES.map((x) => [x, 0.2275]),
      label: {
        show: true,
        position: "inside",
        offset: [0, -21],
        rotate: 90,
        align: "center",
        verticalAlign: "middle",
        fontFamily: F,
        fontSize: 38,
        color: INK,
        formatter: (p: any) => `${p.value[0]} m`,
      },
    },

    ...valueGrid(1, TICKS_H, TICKS_L, -0.155, 3.31, -0.81, 3.83),
    hexSeries(1, HEX_H, 0, 0.0297),
    sampleSeries(1, [...QUAKE_H, ...QUAKE_H_DENSE]),
    lineSeries(1, RAIN_TREND_H, RAIN, 4),
    lineSeries(1, QUAKE_TREND_H, QUAKE, 5),
    centroidSeries(1, CENTROIDS_H),

    ...valueGrid(2, TICKS_A, TICKS_L, -0.136, 6.825, -0.81, 3.83),
    hexSeries(2, HEX_A, 0.153, 0.0326),
    sampleSeries(2, [...QUAKE_A, ...QUAKE_A_DENSE]),
    lineSeries(2, RAIN_TREND_A, RAIN, 4),
    lineSeries(2, QUAKE_TREND_A, QUAKE, 5),
    centroidSeries(2, CENTROIDS_A),

    ...valueGrid(3, TICKS_V, TICKS_L, -3.03, 8.0, -0.81, 3.83),
    hexSeries(3, HEX_V, -0.504, 0.0457),
    sampleSeries(3, [...QUAKE_V, ...QUAKE_V_DENSE]),
    lineSeries(3, RAIN_TREND_V, RAIN, 4),
    lineSeries(3, QUAKE_TREND_V, QUAKE, 5),
    centroidSeries(3, CENTROIDS_V),
  ],
  graphic: [
    { type: "line", z: 20, shape: { x1: 408, y1: 830, x2: 494, y2: 830 }, style: { stroke: RAIN, lineWidth: 7.5 } },
    legendText("Rainfall", 524, 830, 40),
    { type: "line", z: 20, shape: { x1: 408, y1: 887, x2: 494, y2: 887 }, style: { stroke: QUAKE, lineWidth: 7.5 } },
    legendText("Earthquake", 524, 887, 40),

    { type: "rect", z: 20, shape: { x: 23, y: 2278, width: 104, height: 37 }, style: { fill: "#5f9dd1" } },
    legendText("Rainfall density", 166, 2298, 52.5),
    { type: "circle", z: 20, shape: { cx: 651, cy: 2296, r: 13.5 }, style: { fill: "#fcc790" } },
    legendText("Earthquake samples", 745, 2298, 52.5),
    { type: "rect", z: 20, shape: { x: 1264, y: 2292, width: 113, height: 9 }, style: { fill: RAIN } },
    legendText("Rainfall median trend", 1414, 2298, 52.5),
    { type: "rect", z: 20, shape: { x: 1966, y: 2292, width: 114, height: 9 }, style: { fill: QUAKE } },
    legendText("Earthquake median trend", 2118, 2298, 52.5),
    { type: "polygon", z: 20, shape: { points: [[2795, 2279], [2812, 2296], [2795, 2313], [2778, 2296]] }, style: { fill: "#8c8c8c", stroke: INK, lineWidth: 3 } },
    legendText("Median centroid", 2886, 2298, 52.5),
  ],
});

export default function App() {
  const ref = useRef<HTMLDivElement>(null);
  useEffect(() => {
    const chart = echarts.init(ref.current as HTMLDivElement, undefined, { renderer: "svg" });
    chart.setOption(makeOption() as any);
    return () => chart.dispose();
  }, []);
  return <div ref={ref} style={{ position: "absolute", left: 0, top: 0, width: 3239, height: 2348 }} />;
}
